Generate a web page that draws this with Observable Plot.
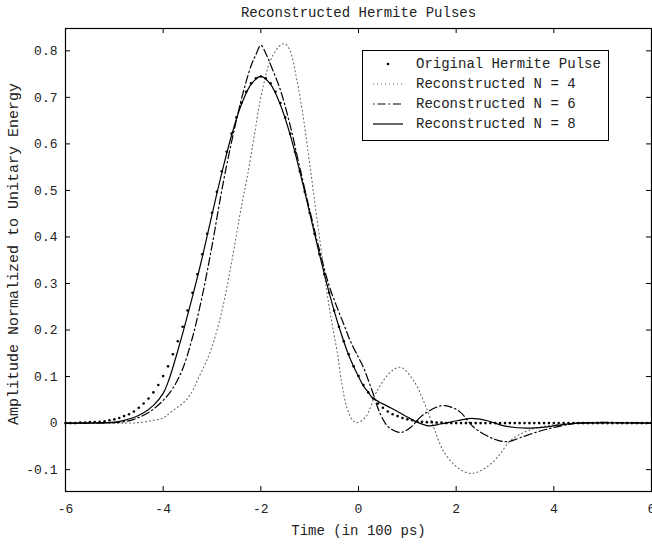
<!DOCTYPE html>
<html>
<head>
<meta charset="utf-8">
<script src="https://cdn.jsdelivr.net/npm/d3@7"></script>
<script src="https://cdn.jsdelivr.net/npm/@observablehq/plot@0.6"></script>
<style>
  body { margin: 0; background: #fff; }
  #wrap { position: relative; width: 652px; height: 544px; font-family: "Liberation Mono", "DejaVu Sans Mono", monospace; color: #222; }
  #legend { position: absolute; left: 362px; top: 50px; width: 247px; height: 91px; border: 1px solid #000; background: #fff; box-sizing: border-box; }
  .row { position: absolute; left: 0; height: 20px; display: flex; align-items: center; font-size: 14px; white-space: pre; }
  .row svg { margin-left: 9px; margin-right: 12px; }
</style>
</head>
<body>
<div id="wrap"><div id="chart"></div><div id="legend"></div></div>
<script>
// ---- data ----
const titleText = "Reconstructed Hermite Pulses";
const xLabelText = "Time (in 100 ps)";
const yLabelText = "Amplitude Normalized to Unitary Energy";
const xTicks = [-6, -4, -2, 0, 2, 4, 6];
const yTicks = [-0.1, 0, 0.1, 0.2, 0.3, 0.4, 0.5, 0.6, 0.7, 0.8];
const seriesNames = ["Original Hermite Pulse", "Reconstructed N = 4", "Reconstructed N = 6", "Reconstructed N = 8"];

// original pulse: samples every 0.1 from -6 to 6
const origT = d3.range(-60, 61).map(i => i / 10);
const origY = [
  0, 0, 0, 0.001, 0.001, 0.002, 0.002, 0.003, 0.004, 0.006,
  0.008, 0.011, 0.015, 0.019, 0.025, 0.033, 0.042, 0.053, 0.066, 0.082,
  0.101, 0.122, 0.148, 0.176, 0.207, 0.242, 0.280, 0.320, 0.363, 0.407,
  0.452, 0.497, 0.541, 0.583, 0.622, 0.657, 0.688, 0.712, 0.730, 0.741,
  0.745,
  0.741, 0.730, 0.712, 0.688, 0.657, 0.622, 0.583, 0.541, 0.497, 0.452,
  0.407, 0.363, 0.320, 0.280, 0.242, 0.207, 0.176, 0.148, 0.122, 0.101,
  0.082, 0.066, 0.053, 0.042, 0.033, 0.025, 0.019, 0.015, 0.011, 0.008,
  0.006, 0.004, 0.003, 0.002, 0.002, 0.001, 0.001,
  0, 0, 0, 0, 0, 0, 0, 0, 0, 0,
  0, 0, 0, 0, 0, 0, 0, 0, 0, 0,
  0, 0, 0, 0, 0, 0, 0, 0, 0, 0,
  0, 0, 0, 0, 0, 0, 0, 0, 0, 0,
  0, 0, 0
];

// N = 4 (dotted)
const n4T = [-6, -4.8, -4.5, -4.2, -4.0, -3.85, -3.5, -3.24, -3.03, -2.8, -2.6, -2.4, -2.28, -2.14, -2.0, -1.8, -1.6, -1.5, -1.4, -1.26, -1.12, -0.99, -0.8, -0.61, -0.54, -0.44, -0.34, -0.24, -0.12, -0.03, 0.14, 0.38, 0.65, 0.86, 1.13, 1.33, 1.54, 1.74, 2.02, 2.29, 2.56, 2.84, 3.11, 3.45, 3.86, 4.5, 6];
const n4Y = [0, 0, 0.001, 0.006, 0.011, 0.023, 0.053, 0.105, 0.155, 0.240, 0.345, 0.464, 0.528, 0.614, 0.700, 0.780, 0.812, 0.815, 0.800, 0.736, 0.650, 0.550, 0.400, 0.256, 0.213, 0.155, 0.084, 0.034, 0.006, 0.001, 0.012, 0.069, 0.109, 0.120, 0.091, 0.048, -0.009, -0.060, -0.095, -0.108, -0.099, -0.074, -0.038, -0.017, -0.006, 0, 0];

// N = 6 (dash-dot)
const n6T = [-6, -5.2, -5.0, -4.8, -4.6, -4.4, -4.2, -4.0, -3.8, -3.6, -3.4, -3.2, -3.0, -2.8, -2.6, -2.4, -2.2, -2.1, -2.0, -1.9, -1.8, -1.6, -1.4, -1.2, -1.0, -0.8, -0.6, -0.44, -0.3, -0.17, 0.0, 0.1, 0.28, 0.45, 0.62, 0.86, 1.06, 1.3, 1.68, 1.88, 2.09, 2.36, 2.77, 3.04, 3.32, 3.72, 4.07, 4.5, 6];
const n6Y = [0, 0, 0.001, 0.003, 0.008, 0.017, 0.030, 0.049, 0.075, 0.117, 0.184, 0.273, 0.381, 0.500, 0.604, 0.695, 0.768, 0.792, 0.812, 0.795, 0.770, 0.716, 0.640, 0.548, 0.458, 0.372, 0.295, 0.249, 0.212, 0.177, 0.141, 0.120, 0.069, 0.019, -0.009, -0.020, -0.010, 0.016, 0.037, 0.035, 0.023, -0.009, -0.034, -0.040, -0.031, -0.017, -0.008, 0, 0];

// N = 8 (solid)
const n8T = [-6, -5.6, -5.2, -5.0, -4.8, -4.6, -4.4, -4.2, -4.0, -3.9, -3.8, -3.7, -3.6, -3.5, -3.4, -3.3, -3.2, -3.0, -2.8, -2.6, -2.4, -2.2, -2.0, -1.8, -1.6, -1.4, -1.2, -1.0, -0.8, -0.6, -0.4, -0.2, 0.0, 0.1, 0.2, 0.28, 0.4, 0.6, 0.8, 1.0, 1.2, 1.44, 1.68, 2.02, 2.3, 2.64, 2.98, 3.45, 3.86, 4.27, 4.6, 6];
const n8Y = [0, 0, 0.001, 0.002, 0.006, 0.012, 0.022, 0.038, 0.064, 0.088, 0.120, 0.156, 0.193, 0.232, 0.272, 0.313, 0.356, 0.448, 0.537, 0.618, 0.684, 0.728, 0.745, 0.728, 0.684, 0.620, 0.540, 0.452, 0.363, 0.280, 0.207, 0.146, 0.100, 0.080, 0.066, 0.055, 0.047, 0.036, 0.025, 0.013, 0.002, -0.006, -0.002, 0.005, 0.010, 0.005, -0.006, -0.011, -0.008, -0.002, 0, 0];

// ---- build tables ----
const orig = origT.map((t, i) => ({t, v: origY[i]}));
const n4 = n4T.map((t, i) => ({t, v: n4Y[i]}));
const n6 = n6T.map((t, i) => ({t, v: n6Y[i]}));
const n8 = n8T.map((t, i) => ({t, v: n8Y[i]}));

const W = 652, H = 544, mL = 65, mR = 1, mT = 28, mB = 53;
const fw = W - mL - mR, fh = H - mT - mB;
const fmt = d => String(+d.toFixed(1));

const chart = Plot.plot({
  width: W, height: H,
  marginLeft: mL, marginRight: mR, marginTop: mT, marginBottom: mB,
  style: {fontFamily: "Liberation Mono, DejaVu Sans Mono, monospace", fontSize: "13px", color: "#222", background: "#fff"},
  x: {domain: [-6, 6]},
  y: {domain: [-0.147, 0.848]},
  marks: [
    Plot.axisX({ticks: xTicks, tickSize: 0, tickPadding: 12, tickFormat: fmt, label: null, fontSize: 13}),
    Plot.axisY({ticks: yTicks, tickSize: 0, tickPadding: 8, tickFormat: fmt, label: null, fontSize: 13}),
    // inward ticks on all four sides
    Plot.ruleX(xTicks, {x: d => d, insetTop: fh - 5, stroke: "#000"}),
    Plot.ruleX(xTicks, {x: d => d, insetBottom: fh - 5, stroke: "#000"}),
    Plot.ruleY(yTicks, {y: d => d, insetRight: fw - 5, stroke: "#000"}),
    Plot.ruleY(yTicks, {y: d => d, insetLeft: fw - 5, stroke: "#000"}),
    Plot.line(n4, {x: "t", y: "v", stroke: "#666", strokeWidth: 1.1, strokeDasharray: "1,3", curve: "catmull-rom"}),
    Plot.line(n6, {x: "t", y: "v", stroke: "#000", strokeWidth: 1.2, strokeDasharray: "8,3,1.5,3", curve: "catmull-rom"}),
    Plot.line(n8, {x: "t", y: "v", stroke: "#000", strokeWidth: 1.2, curve: "catmull-rom"}),
    Plot.dot(orig, {x: "t", y: "v", r: 1.3, fill: "#000", stroke: null}),
    Plot.frame({stroke: "#000", strokeWidth: 1.2}),
    Plot.text([titleText], {text: d => d, frameAnchor: "top", lineAnchor: "middle", dy: -16, fontSize: 14, fill: "#222"}),
    Plot.text([xLabelText], {text: d => d, frameAnchor: "bottom", lineAnchor: "middle", dy: 39, fontSize: 14, fill: "#222"}),
    Plot.text([yLabelText], {text: d => d, frameAnchor: "left", textAnchor: "middle", lineAnchor: "middle", dx: -52, dy: -6, rotate: -90, fontSize: 15, fill: "#222"})
  ]
});
document.getElementById("chart").appendChild(chart);

// ---- legend ----
const legend = document.getElementById("legend");
const samples = [
  `<svg width="32" height="10"><circle cx="16" cy="5" r="1.3" fill="#000"/></svg>`,
  `<svg width="32" height="10"><line x1="1" y1="5" x2="31" y2="5" stroke="#666" stroke-width="1.1" stroke-dasharray="1,3"/></svg>`,
  `<svg width="32" height="10"><line x1="1" y1="5" x2="31" y2="5" stroke="#000" stroke-width="1.2" stroke-dasharray="1.5,3,8,3"/></svg>`,
  `<svg width="32" height="10"><line x1="1" y1="5" x2="31" y2="5" stroke="#000" stroke-width="1.2"/></svg>`
];
seriesNames.forEach((name, i) => {
  const row = document.createElement("div");
  row.className = "row";
  row.style.top = (3 + i * 20) + "px";
  row.innerHTML = samples[i] + `<span>${name}</span>`;
  legend.appendChild(row);
});
</script>
</body>
</html>
